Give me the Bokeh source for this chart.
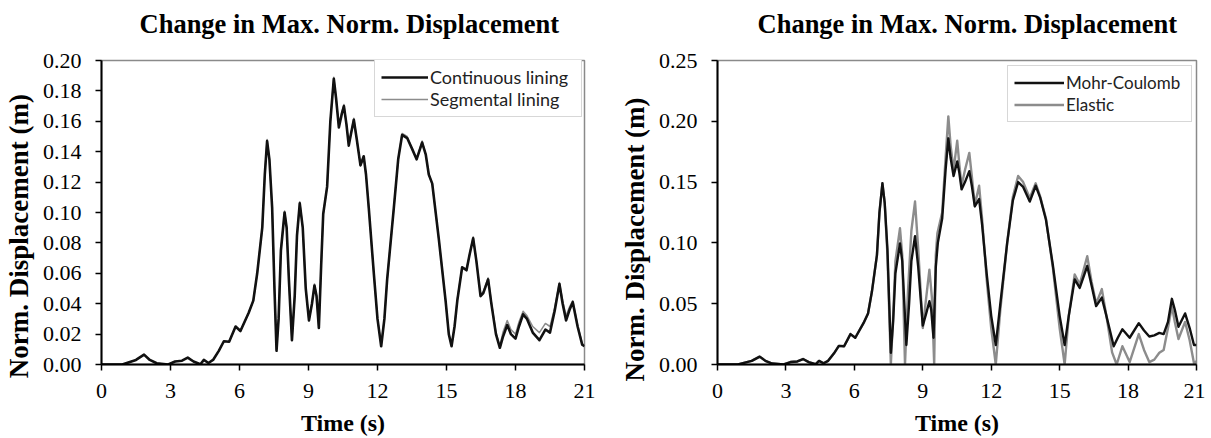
from bokeh.plotting import figure
from bokeh.models import Legend, LegendItem, FixedTicker, NumeralTickFormatter, Title, Range1d
from bokeh.layouts import row
from bokeh.embed import file_html
from bokeh.resources import INLINE

# ---------------- data ----------------
title_text = "Change in Max. Norm. Displacement"
x_label = "Time (s)"
y_label = "Norm. Displacement (m)"
x_ticks = [0, 3, 6, 9, 12, 15, 18, 21]
left_y_ticks = [0.00, 0.02, 0.04, 0.06, 0.08, 0.10, 0.12, 0.14, 0.16, 0.18, 0.20]
right_y_ticks = [0.00, 0.05, 0.10, 0.15, 0.20, 0.25]

cont_t = [0.0, 0.9, 1.2, 1.5, 1.85, 2.1, 2.4, 2.9, 3.2, 3.5, 3.75, 4.0, 4.3, 4.45, 4.65, 4.85,
          5.1, 5.32, 5.55, 5.83, 6.04, 6.4, 6.6, 6.77, 6.99, 7.1, 7.2, 7.3, 7.42, 7.52, 7.61,
          7.7, 7.8, 7.96, 8.05, 8.15, 8.28, 8.4, 8.5, 8.62, 8.75, 8.88, 9.02, 9.15, 9.26, 9.35,
          9.45, 9.55, 9.64, 9.81, 9.95, 10.1, 10.2, 10.32, 10.45, 10.54, 10.65, 10.75, 10.85,
          10.97, 11.1, 11.26, 11.4, 11.5, 11.62, 11.84, 12.0, 12.16, 12.3, 12.42, 12.71, 12.9,
          13.07, 13.29, 13.5, 13.7, 13.94, 14.1, 14.23, 14.38, 14.67, 14.96, 15.1, 15.22, 15.35,
          15.47, 15.68, 15.87, 16.0, 16.16, 16.3, 16.48, 16.6, 16.81, 16.95, 17.15, 17.32, 17.45,
          17.64, 17.8, 18.0, 18.15, 18.33, 18.5, 18.75, 19.04, 19.3, 19.5, 19.7, 19.91, 20.05,
          20.2, 20.35, 20.49, 20.7, 20.9, 21.0]
cont_v = [0.0, 0.0, 0.0015, 0.003, 0.0065, 0.003, 0.0008, 0.0, 0.002, 0.0025, 0.0045, 0.002, 0.0002, 0.003, 0.001, 0.003,
          0.009, 0.0153, 0.015, 0.025, 0.022, 0.034, 0.042, 0.060, 0.090, 0.125, 0.147, 0.135, 0.103, 0.050, 0.009,
          0.030, 0.075, 0.100, 0.090, 0.055, 0.016, 0.045, 0.085, 0.106, 0.090, 0.050, 0.029, 0.040, 0.052, 0.045,
          0.024, 0.065, 0.099, 0.117, 0.160, 0.188, 0.175, 0.156, 0.165, 0.170, 0.158, 0.144, 0.152,
          0.161, 0.148, 0.131, 0.137, 0.125, 0.103, 0.060, 0.030, 0.012, 0.030, 0.056, 0.103, 0.135,
          0.151, 0.149, 0.142, 0.135, 0.146, 0.138, 0.125, 0.119, 0.082, 0.042, 0.020, 0.012, 0.025,
          0.042, 0.064, 0.062, 0.072, 0.083, 0.068, 0.045, 0.047, 0.056, 0.040, 0.020, 0.011, 0.018,
          0.026, 0.020, 0.017, 0.025, 0.033, 0.030, 0.021, 0.016, 0.023, 0.021, 0.035, 0.053, 0.040,
          0.029, 0.036, 0.041, 0.025, 0.013, 0.012]

seg_t = [0.0, 0.9, 1.2, 1.5, 1.85, 2.1, 2.4, 2.9, 3.2, 3.5, 3.75, 4.0, 4.3, 4.45, 4.65, 4.85,
         5.1, 5.32, 5.55, 5.83, 6.04, 6.4, 6.6, 6.77, 6.99, 7.1, 7.2, 7.3, 7.42, 7.52, 7.61,
         7.7, 7.8, 7.96, 8.05, 8.15, 8.28, 8.4, 8.5, 8.62, 8.75, 8.88, 9.02, 9.15, 9.26, 9.35,
         9.45, 9.55, 9.64, 9.81, 9.95, 10.1, 10.2, 10.32, 10.45, 10.54, 10.65, 10.75, 10.85,
         10.97, 11.1, 11.26, 11.4, 11.5, 11.62, 11.84, 12.0, 12.16, 12.3, 12.42, 12.71, 12.9,
         13.07, 13.29, 13.5, 13.7, 13.94, 14.1, 14.23, 14.38, 14.67, 14.96, 15.1, 15.22, 15.35,
         15.47, 15.68, 15.87, 16.0, 16.16, 16.3, 16.48, 16.6, 16.81, 16.95, 17.15, 17.32, 17.45,
         17.64, 17.8, 18.0, 18.15, 18.33, 18.5, 18.75, 19.04, 19.3, 19.5, 19.7, 19.91, 20.05,
         20.2, 20.35, 20.49, 20.7, 20.9, 21.0]
seg_v = [0.0, 0.0, 0.0015, 0.003, 0.0065, 0.003, 0.0008, 0.0, 0.002, 0.0025, 0.0045, 0.002, 0.0002, 0.003, 0.001, 0.003,
         0.009, 0.0153, 0.015, 0.025, 0.022, 0.034, 0.042, 0.060, 0.090, 0.125, 0.148, 0.135, 0.103, 0.050, 0.010,
         0.030, 0.075, 0.101, 0.090, 0.055, 0.016, 0.045, 0.085, 0.107, 0.090, 0.050, 0.029, 0.040, 0.053, 0.045,
         0.024, 0.065, 0.099, 0.117, 0.160, 0.189, 0.175, 0.157, 0.166, 0.171, 0.158, 0.145, 0.152,
         0.162, 0.148, 0.131, 0.137, 0.125, 0.103, 0.060, 0.030, 0.013, 0.030, 0.056, 0.103, 0.135,
         0.152, 0.150, 0.142, 0.135, 0.147, 0.138, 0.125, 0.119, 0.082, 0.042, 0.020, 0.013, 0.025,
         0.043, 0.064, 0.063, 0.072, 0.084, 0.068, 0.046, 0.048, 0.057, 0.041, 0.021, 0.012, 0.021,
         0.029, 0.023, 0.020, 0.028, 0.035, 0.032, 0.025, 0.021, 0.027, 0.025, 0.037, 0.054, 0.042,
         0.032, 0.038, 0.042, 0.026, 0.014, 0.012]

mc_t = [0.0, 0.9, 1.2, 1.5, 1.85, 2.1, 2.4, 2.9, 3.2, 3.5, 3.75, 4.0, 4.3, 4.45, 4.65, 4.85,
        5.1, 5.32, 5.55, 5.83, 6.04, 6.4, 6.6, 6.77, 6.99, 7.1, 7.23, 7.33, 7.45, 7.6,
        7.7, 7.8, 8.0, 8.1, 8.28, 8.4, 8.5, 8.66, 8.8, 9.0, 9.15, 9.29, 9.37, 9.47,
        9.57, 9.66, 9.85, 10.0, 10.12, 10.22, 10.35, 10.51, 10.6, 10.7, 10.85, 11.04, 11.15,
        11.28, 11.47, 11.6, 11.8, 12.0, 12.2, 12.4, 12.7, 12.95, 13.18, 13.4, 13.69, 13.95,
        14.15, 14.4, 14.7, 15.0, 15.22, 15.4, 15.66, 15.88, 16.21, 16.4, 16.6, 16.85, 17.05,
        17.37, 17.55, 17.75, 18.07, 18.47, 18.7, 18.93, 19.15, 19.37, 19.56, 19.75, 19.92,
        20.05, 20.21, 20.5, 20.7, 20.89, 21.0]
mc_v = [0.0, 0.0, 0.0015, 0.003, 0.0065, 0.003, 0.0008, 0.0, 0.002, 0.0025, 0.0045, 0.002, 0.0002, 0.003, 0.001, 0.003,
        0.009, 0.0153, 0.015, 0.025, 0.022, 0.034, 0.042, 0.060, 0.090, 0.125, 0.149, 0.133, 0.095, 0.0096,
        0.035, 0.075, 0.0995, 0.085, 0.016, 0.050, 0.085, 0.1055, 0.080, 0.032, 0.042, 0.052, 0.045, 0.022,
        0.080, 0.100, 0.120, 0.160, 0.186, 0.170, 0.155, 0.167, 0.158, 0.144, 0.150, 0.159, 0.147,
        0.130, 0.136, 0.115, 0.075, 0.040, 0.016, 0.050, 0.100, 0.135, 0.150, 0.146, 0.134, 0.147,
        0.137, 0.119, 0.082, 0.040, 0.016, 0.040, 0.070, 0.063, 0.081, 0.065, 0.048, 0.055, 0.040,
        0.015, 0.022, 0.029, 0.022, 0.034, 0.028, 0.023, 0.024, 0.026, 0.025, 0.035, 0.054,
        0.045, 0.031, 0.042, 0.030, 0.016, 0.016]

el_t = [0.0, 0.9, 1.2, 1.5, 1.85, 2.1, 2.4, 2.9, 3.2, 3.5, 3.75, 4.0, 4.3, 4.45, 4.65, 4.85,
        5.1, 5.32, 5.55, 5.83, 6.04, 6.4, 6.6, 6.77, 6.99, 7.1, 7.23, 7.33, 7.45, 7.6,
        7.7, 7.8, 8.0, 8.1, 8.22, 8.35, 8.5, 8.66, 8.8, 9.0, 9.15, 9.29, 9.4, 9.5,
        9.57, 9.64, 9.85, 10.0, 10.12, 10.22, 10.35, 10.51, 10.6, 10.7, 10.85, 11.04, 11.15,
        11.28, 11.47, 11.6, 11.8, 12.0, 12.2, 12.4, 12.7, 12.95, 13.18, 13.4, 13.69, 13.95,
        14.15, 14.4, 14.7, 15.0, 15.22, 15.4, 15.66, 15.88, 16.21, 16.4, 16.6, 16.85, 17.05,
        17.3, 17.5, 17.75, 18.07, 18.47, 18.7, 18.93, 19.15, 19.37, 19.56, 19.75, 19.92,
        20.05, 20.21, 20.5, 20.7, 20.9, 21.0]
el_v = [0.0, 0.0, 0.0015, 0.003, 0.0065, 0.003, 0.0008, 0.0, 0.002, 0.0025, 0.0045, 0.002, 0.0002, 0.003, 0.001, 0.003,
        0.009, 0.0153, 0.015, 0.025, 0.022, 0.034, 0.042, 0.060, 0.090, 0.125, 0.149, 0.133, 0.090, 0.0,
        0.040, 0.085, 0.112, 0.090, 0.0, 0.060, 0.110, 0.134, 0.095, 0.030, 0.055, 0.078, 0.055, 0.0,
        0.090, 0.108, 0.125, 0.170, 0.204, 0.180, 0.160, 0.184, 0.165, 0.147, 0.160, 0.174, 0.155,
        0.131, 0.147, 0.120, 0.070, 0.030, 0.0, 0.045, 0.100, 0.138, 0.155, 0.150, 0.137, 0.149,
        0.138, 0.120, 0.080, 0.030, 0.0, 0.040, 0.074, 0.066, 0.089, 0.068, 0.050, 0.062, 0.040,
        0.010, 0.0, 0.015, 0.002, 0.025, 0.012, 0.002, 0.004, 0.0096, 0.012, 0.030, 0.048,
        0.035, 0.021, 0.035, 0.020, 0.0, 0.003]

SERIF = "Liberation Serif"
LEG_FONT = "Lato"
NBSP = "\u00a0"

FRAME_TOP = 60
FRAME_BOTTOM = 365
FIG_H = 438


def make_fig(width, border_left, border_right, y_max, y_ticks, fmt, title_offset, ylab_pad):
    p = figure(width=width, height=FIG_H, output_backend="svg", toolbar_location=None,
               x_range=Range1d(0, 21), y_range=Range1d(0, y_max),
               min_border_left=border_left, min_border_right=border_right,
               min_border_top=FRAME_TOP, min_border_bottom=FIG_H - FRAME_BOTTOM)
    # spacer between frame and title, then the title itself
    p.add_layout(Title(text=" ", text_font_size="13px", standoff=0), "above")
    p.add_layout(Title(text=title_text, align="left", offset=title_offset,
                       text_font=SERIF, text_font_size="26.5px", text_font_style="bold",
                       text_color="#000000"), "above")
    p.xgrid.visible = False
    p.ygrid.visible = False
    p.background_fill_color = "white"
    p.border_fill_color = "white"
    p.outline_line_color = "#8a8a8a"
    p.outline_line_width = 1.5
    for ax in (p.xaxis[0], p.yaxis[0]):
        ax.axis_line_color = "#000000"
        ax.axis_line_width = 2
        ax.major_tick_line_color = "#000000"
        ax.major_tick_line_width = 1.5
        ax.major_tick_in = 0
        ax.major_tick_out = 6
        ax.minor_tick_line_color = None
        ax.major_label_text_font = SERIF
        ax.major_label_text_font_size = "22px"
        ax.major_label_text_color = "#000000"
        ax.axis_label_text_font = SERIF
        ax.axis_label_text_font_style = "bold"
        ax.axis_label_text_color = "#000000"
    p.xaxis.axis_label_text_font_size = "24px"
    p.yaxis.axis_label_text_font_size = "27px"
    p.xaxis.ticker = FixedTicker(ticks=x_ticks)
    p.yaxis.ticker = FixedTicker(ticks=y_ticks)
    p.yaxis.formatter = NumeralTickFormatter(format=fmt)
    p.xaxis.axis_label = x_label
    # trailing non-breaking spaces shift the centred label toward the bottom,
    # as in the original where it sits slightly below the axis centre
    p.yaxis.axis_label = y_label + NBSP * ylab_pad
    p.xaxis.major_label_standoff = 13
    p.yaxis.major_label_standoff = 14
    p.xaxis.axis_label_standoff = 9
    p.yaxis.axis_label_standoff = 6
    return p


# ---- left chart ----
p1 = make_fig(605, 100, 21, 0.2, left_y_ticks, "0.00", 38, 7)
r_seg = p1.line(seg_t, seg_v, line_color="#8c8c8c", line_width=1.5, line_join="round")
r_cont = p1.line(cont_t, cont_v, line_color="#111111", line_width=2.6, line_join="round")
leg1 = Legend(items=[LegendItem(label="Continuous lining", renderers=[r_cont]),
                     LegendItem(label="Segmental lining", renderers=[r_seg])],
              location=(273, 247), margin=0, padding=6, spacing=0,
              glyph_width=47, glyph_height=16, label_height=16, label_standoff=2,
              label_width=145,
              label_text_font=LEG_FONT, label_text_font_size="18px",
              label_text_color="#222222",
              border_line_color="#b0b0b0", border_line_width=1,
              background_fill_alpha=1.0)
p1.add_layout(leg1)

# ---- right chart ----
p2 = make_fig(600, 112, 9, 0.25, right_y_ticks, "0.00", 40, 8)
r_el = p2.line(el_t, el_v, line_color="#8c8c8c", line_width=2.4, line_join="round")
r_mc = p2.line(mc_t, mc_v, line_color="#111111", line_width=2.4, line_join="round")
leg2 = Legend(items=[LegendItem(label="Mohr-Coulomb", renderers=[r_mc]),
                     LegendItem(label="Elastic", renderers=[r_el])],
              location=(290, 242), margin=0, padding=6, spacing=1,
              glyph_width=50, glyph_height=17, label_height=17, label_standoff=2,
              label_width=119,
              label_text_font=LEG_FONT, label_text_font_size="17px",
              label_text_color="#222222",
              border_line_color="#b0b0b0", border_line_width=1,
              background_fill_alpha=1.0)
p2.add_layout(leg2)

layout = row(p1, p2)
open("out.html", "w").write(file_html(layout, INLINE))
